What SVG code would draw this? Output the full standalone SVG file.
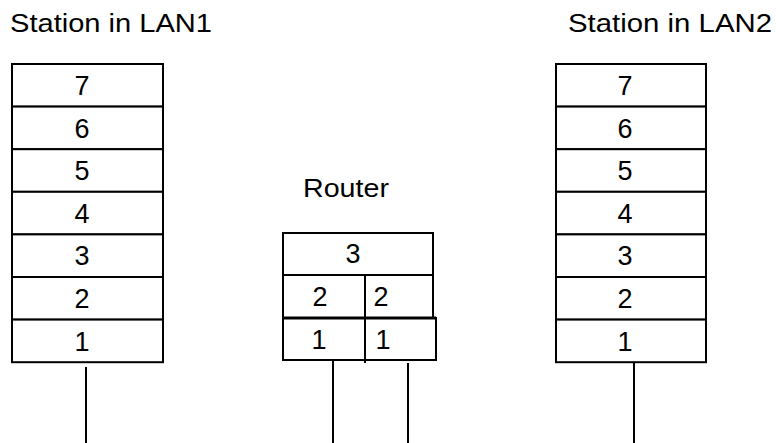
<svg xmlns="http://www.w3.org/2000/svg" width="776" height="443" viewBox="0 0 776 443">
<style>
.box{fill:#fff;stroke:#000;stroke-width:2}
.ln{stroke:#000;stroke-width:2;fill:none}
.t{font-family:"Liberation Sans",Arial,sans-serif;font-size:25px;fill:#000}
.d{font-family:"Liberation Sans",Arial,sans-serif;font-size:27px;fill:#000;text-anchor:middle}
</style>
<rect width="776" height="443" fill="#fff"/>
<g id="label-lan1"><text class="t" x="10" y="32" textLength="202" lengthAdjust="spacingAndGlyphs">Station in LAN1</text></g>
<g id="label-lan2"><text class="t" x="568" y="32" textLength="204" lengthAdjust="spacingAndGlyphs">Station in LAN2</text></g>
<g id="label-router"><text class="t" x="303" y="197" textLength="86" lengthAdjust="spacingAndGlyphs">Router</text></g>
<g id="station1">
<rect class="box" x="12" y="64" width="151" height="42.6"/>
<rect class="box" x="12" y="106.6" width="151" height="42.6"/>
<rect class="box" x="12" y="149.2" width="151" height="42.6"/>
<rect class="box" x="12" y="191.8" width="151" height="42.6"/>
<rect class="box" x="12" y="234.4" width="151" height="42.6"/>
<rect class="box" x="12" y="277" width="151" height="42.6"/>
<rect class="box" x="12" y="319.6" width="151" height="42.6"/>
<text class="d" x="82" y="95">7</text>
<text class="d" x="82" y="137.6">6</text>
<text class="d" x="82" y="180.2">5</text>
<text class="d" x="82" y="222.8">4</text>
<text class="d" x="82" y="265.4">3</text>
<text class="d" x="82" y="308">2</text>
<text class="d" x="82" y="350.6">1</text>
</g>
<g id="station2">
<rect class="box" x="556" y="64" width="150" height="42.6"/>
<rect class="box" x="556" y="106.6" width="150" height="42.6"/>
<rect class="box" x="556" y="149.2" width="150" height="42.6"/>
<rect class="box" x="556" y="191.8" width="150" height="42.6"/>
<rect class="box" x="556" y="234.4" width="150" height="42.6"/>
<rect class="box" x="556" y="277" width="150" height="42.6"/>
<rect class="box" x="556" y="319.6" width="150" height="42.6"/>
<text class="d" x="625" y="95">7</text>
<text class="d" x="625" y="137.6">6</text>
<text class="d" x="625" y="180.2">5</text>
<text class="d" x="625" y="222.8">4</text>
<text class="d" x="625" y="265.4">3</text>
<text class="d" x="625" y="308">2</text>
<text class="d" x="625" y="350.6">1</text>
</g>
<g id="router">
<rect class="box" x="283" y="233" width="150" height="42"/>
<rect class="box" x="283" y="275" width="150" height="43"/>
<rect class="box" x="283" y="318" width="153" height="42"/>
<line class="ln" x1="283" y1="318" x2="436" y2="318" style="stroke-width:3"/>
<line class="ln" x1="365" y1="275" x2="365" y2="363"/>
<text class="d" x="353" y="263">3</text>
<text class="d" x="320" y="306">2</text>
<text class="d" x="381" y="306">2</text>
<text class="d" x="319" y="349">1</text>
<text class="d" x="383" y="349">1</text>
</g>
<g id="connectors">
<line class="ln" x1="86" y1="367" x2="86" y2="443"/>
<line class="ln" x1="333" y1="360" x2="333" y2="443"/>
<line class="ln" x1="408" y1="363" x2="408" y2="443"/>
<line class="ln" x1="634" y1="362" x2="634" y2="443"/>
</g>
</svg>
